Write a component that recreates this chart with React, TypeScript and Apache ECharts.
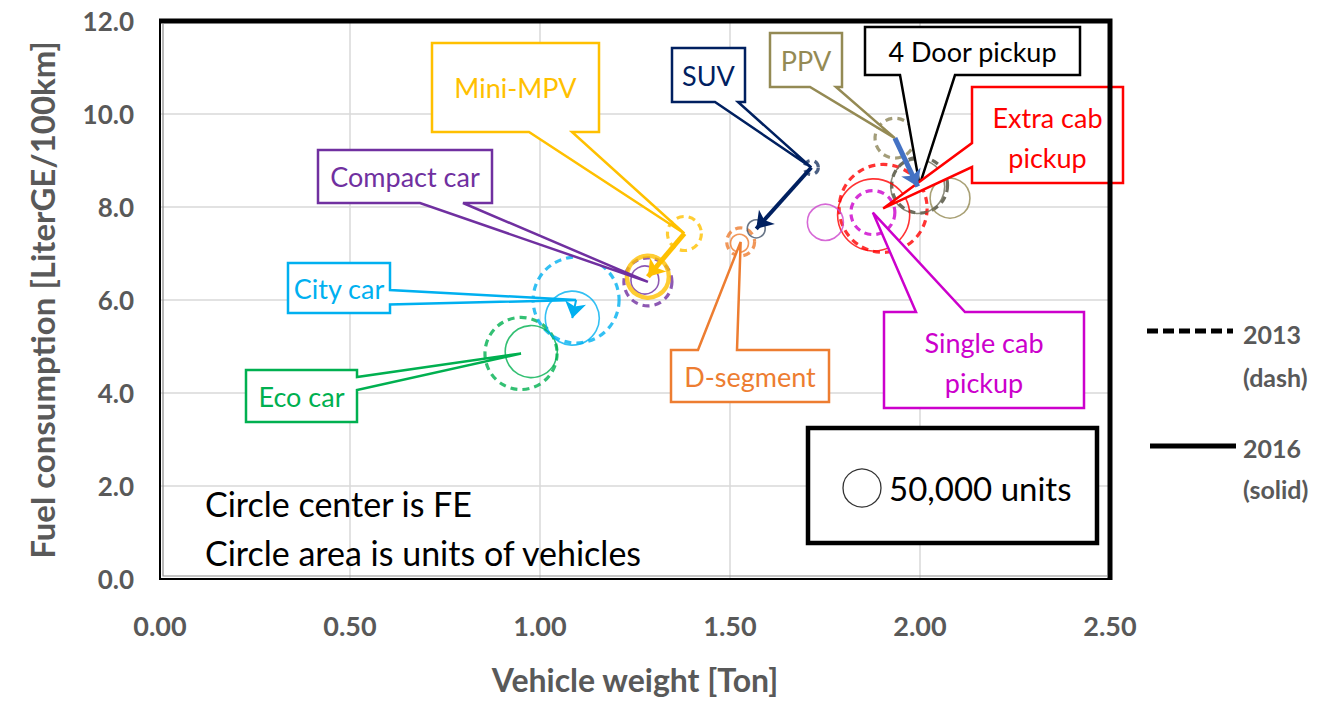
import React, { useEffect, useRef } from 'react';
import * as echarts from 'echarts';

const categories = ['Eco car', 'City car', 'Compact car', 'Mini-MPV', 'D-segment', 'SUV', 'PPV', '4 Door pickup', 'Extra cab pickup', 'Single cab pickup'];
const weight2013 = [0.95, 1.095, 1.284, 1.38, 1.528, 1.714, 1.934, 1.999, 1.903, 1.876];
const fe2013 = [4.85, 6.0, 6.39, 7.43, 7.25, 8.85, 9.48, 8.47, 7.97, 7.88];
const units2013 = [180000, 256000, 80000, 40000, 27000, 6800, 55000, 108000, 268000, 67000];
const weight2016 = [0.977, 1.085, 1.276, 1.284, 1.525, 1.569, 2.079, 1.994, 1.878, 1.751];
const fe2016 = [4.89, 5.61, 6.43, 6.5, 7.22, 7.53, 8.19, 8.44, 7.83, 7.67];
const units2016 = [94000, 101000, 27000, 61000, 11200, 11200, 55000, 101000, 180000, 45000];
const colors = ['#00B050', '#00B0F0', '#7030A0', '#FFC000', '#ED7D31', '#002060', '#948A54', '#000000', '#FF0000', '#CC00CC'];
const circle2013Colors = ['#00B050', '#00B0F0', '#7030A0', '#FFC000', '#ED7D31', '#1F3864', '#8C8458', '#4A4A38', '#FF0000', '#CC00CC'];
const circle2016Colors = ['#00B050', '#00B0F0', '#7030A0', '#FFC000', '#ED7D31', '#44546A', '#948A54', '#6E6E5A', '#FF0000', '#CC44CC'];
const xTicks = [0, 0.5, 1, 1.5, 2, 2.5];
const yTicks = [0, 2, 4, 6, 8, 10, 12];
const legendUnits = 50000;
// arrows between bubbles (category index of start / end)
const arrowFrom = [5, 3, 1, 6];
const arrowTo = [5, 3, 1, 7];
const arrowColors = ['#002060', '#FFC000', '#00B0F0', '#4472C4'];
const arrowWidths = [4, 5, 2, 5];

// callout layout (annotation boxes)
const callouts = [
  { cat: 3, lines: ['Mini-MPV'], box: [432, 43, 167, 89], side: 'bottom', base: [529, 572] },
  { cat: 2, lines: ['Compact car'], box: [318, 150, 174, 53], side: 'bottom', base: [420, 463] },
  { cat: 5, lines: ['SUV'], box: [672, 48, 73, 54], side: 'bottom', base: [715, 738] },
  { cat: 6, lines: ['PPV'], box: [770, 33, 72, 54], side: 'bottom', base: [810, 836] },
  { cat: 7, lines: ['4 Door pickup'], box: [865, 27, 215, 48], side: 'bottom', base: [900, 955] },
  { cat: 8, lines: ['Extra cab', 'pickup'], box: [972, 87, 151, 96], side: 'left', base: [143, 167] },
  { cat: 9, lines: ['Single cab', 'pickup'], box: [884, 312, 200, 96], side: 'top', base: [916, 965] },
  { cat: 4, lines: ['D-segment'], box: [671, 350, 158, 52], side: 'top', base: [698, 737] },
  { cat: 1, lines: ['City car'], box: [288, 263, 102, 50], side: 'right', base: [290, 304.5] },
  { cat: 0, lines: ['Eco car'], box: [246, 370, 111, 52], side: 'right', base: [377, 390] },
];

const R50 = 19;
const sizeOf = (u: number) => 2 * R50 * Math.sqrt(u / legendUnits);
const FONT = 'Lato, "Open Sans", sans-serif';

export default function App() {
  const ref = useRef<HTMLDivElement>(null);
  useEffect(() => {
    document.body.style.margin = '0';
    const chart = echarts.init(ref.current!, null, { renderer: 'svg' });
    const point = (i: number, yr: number) => (yr === 2013 ? [weight2013[i], fe2013[i]] : [weight2016[i], fe2016[i]]);

    const mkSeries = (yr: number) => ({
      type: 'scatter',
      name: String(yr),
      z: 3,
      silent: true,
      symbol: 'circle',
      symbolSize: (v: number[]) => sizeOf(v[2]),
      data: categories.map((c, i) => ({
        name: c,
        value: yr === 2013 ? [weight2013[i], fe2013[i], units2013[i]] : [weight2016[i], fe2016[i], units2016[i]],
        itemStyle: {
          color: 'rgba(0,0,0,0)',
          borderColor: yr === 2013 ? circle2013Colors[i] : circle2016Colors[i],
          borderWidth: yr === 2013 ? 3.2 : i === 3 ? 4.5 : 1.6,
          borderType: yr === 2013 ? [7, 5] : 'solid',
        },
      })),
    });

    chart.setOption({
      animation: false,
      grid: { left: 160, right: 214, top: 21, bottom: 123, show: false, outerBoundsMode: 'none' },
      xAxis: {
        type: 'value', min: xTicks[0], max: xTicks[xTicks.length - 1], interval: 0.5,
        name: 'Vehicle weight [Ton]', nameLocation: 'middle', nameGap: 84,
        nameTextStyle: { fontSize: 32, fontWeight: 'bold', color: '#595959', fontFamily: FONT },
        axisLine: { show: false }, axisTick: { show: false },
        axisLabel: { margin: 33, fontSize: 27, fontWeight: 'bold', color: '#595959', fontFamily: FONT, formatter: (v: number) => v.toFixed(2) },
        splitLine: { show: true, lineStyle: { color: '#D9D9D9', width: 1.5 } },
      },
      yAxis: {
        type: 'value', min: yTicks[0], max: yTicks[yTicks.length - 1], interval: 2,
        name: 'Fuel consumption [LiterGE/100km]', nameLocation: 'middle', nameGap: 102, nameRotate: 90,
        nameTextStyle: { fontSize: 33, fontWeight: 'bold', color: '#595959', fontFamily: FONT },
        axisLine: { show: false }, axisTick: { show: false },
        axisLabel: { margin: 26, fontSize: 26, fontWeight: 'bold', color: '#595959', fontFamily: FONT, formatter: (v: number) => v.toFixed(1) },
        splitLine: { show: true, lineStyle: { color: '#D9D9D9', width: 1.5 } },
      },
      series: [
        mkSeries(2013),
        mkSeries(2016),
        {
          type: 'lines',
          coordinateSystem: 'cartesian2d',
          z: 10,
          silent: true,
          symbol: ['none', 'arrow'],
          symbolSize: 16,
          data: arrowFrom.map((f, k) => ({
            coords: [point(f, 2013), point(arrowTo[k], 2016)],
            lineStyle: { color: arrowColors[k], width: arrowWidths[k], opacity: 1 },
          })),
        },
      ],
    });

    const graphics: any[] = [];
    // plot frame
    const tl = chart.convertToPixel({ gridIndex: 0 }, [xTicks[0], yTicks[yTicks.length - 1]]) as number[];
    const br = chart.convertToPixel({ gridIndex: 0 }, [xTicks[xTicks.length - 1], yTicks[0]]) as number[];
    graphics.push({ type: 'rect', z: 20, silent: true, shape: { x: tl[0], y: tl[1], width: br[0] - tl[0], height: br[1] - tl[1] }, style: { fill: 'none', stroke: '#000', lineWidth: 2 } });
    graphics.push({ type: 'polyline', z: 21, silent: true, shape: { points: [[tl[0] - 1, tl[1]], [br[0], tl[1]], [br[0], br[1] + 1]] }, style: { fill: 'none', stroke: '#000', lineWidth: 5 } });
    graphics.push({ type: 'polyline', z: 21, silent: true, shape: { points: [[tl[0] + 3, tl[1] + 3], [tl[0] + 3, br[1] - 3], [br[0] - 3, br[1] - 3]] }, style: { fill: 'none', stroke: '#8C8C8C', lineWidth: 1.2 } });

    callouts.forEach((co) => {
      const [bx, by, bw, bh] = co.box;
      const tip = chart.convertToPixel({ gridIndex: 0 }, point(co.cat, 2013)) as number[];
      const [b1, b2] = co.base;
      let pts: number[][] = [];
      if (co.side === 'bottom') {
        pts = [[bx, by], [bx + bw, by], [bx + bw, by + bh], [b2, by + bh], tip, [b1, by + bh], [bx, by + bh]];
      } else if (co.side === 'top') {
        pts = [[bx, by], [b1, by], tip, [b2, by], [bx + bw, by], [bx + bw, by + bh], [bx, by + bh]];
      } else if (co.side === 'left') {
        pts = [[bx, by], [bx + bw, by], [bx + bw, by + bh], [bx, by + bh], [bx, b2], tip, [bx, b1]];
      } else {
        pts = [[bx, by], [bx + bw, by], [bx + bw, b1], tip, [bx + bw, b2], [bx + bw, by + bh], [bx, by + bh]];
      }
      const col = colors[co.cat];
      graphics.push({
        type: 'polygon', z: 5, silent: true,
        shape: { points: pts },
        style: { fill: '#fff', stroke: col, lineWidth: 2.5, lineJoin: 'miter' },
      });
      const n = co.lines.length;
      co.lines.forEach((t, j) => {
        graphics.push({
          type: 'text', z: 6, silent: true,
          x: bx + bw / 2,
          y: n === 1 ? by + bh / 2 : by + 30 + j * 40,
          style: { text: t, fill: col, fontSize: 27, fontFamily: FONT, align: 'center', verticalAlign: 'middle', textAlign: 'center', textVerticalAlign: 'middle' },
        });
      });
    });

    // notes
    graphics.push({ type: 'text', z: 6, x: 205, y: 503, style: { text: 'Circle center is FE', fill: '#000', fontSize: 34, fontFamily: FONT, verticalAlign: 'middle', textVerticalAlign: 'middle' } });
    graphics.push({ type: 'text', z: 6, x: 205, y: 552, style: { text: 'Circle area is units of vehicles', fill: '#000', fontSize: 34, fontFamily: FONT, verticalAlign: 'middle', textVerticalAlign: 'middle' } });

    // size legend box
    graphics.push({ type: 'rect', z: 6, shape: { x: 808, y: 428, width: 289, height: 115 }, style: { fill: '#fff', stroke: '#000', lineWidth: 4.5 } });
    graphics.push({ type: 'circle', z: 7, shape: { cx: 862, cy: 488, r: sizeOf(legendUnits) / 2 }, style: { fill: 'none', stroke: '#333', lineWidth: 1.3 } });
    graphics.push({ type: 'text', z: 7, x: 889, y: 488, style: { text: '50,000 units', fill: '#000', fontSize: 33, fontFamily: FONT, verticalAlign: 'middle', textVerticalAlign: 'middle' } });

    // year legend
    graphics.push({ type: 'line', z: 6, shape: { x1: 1147, y1: 331, x2: 1233, y2: 331 }, style: { stroke: '#000', lineWidth: 5, lineDash: [11, 5] } });
    graphics.push({ type: 'line', z: 6, shape: { x1: 1150, y1: 446, x2: 1236, y2: 446 }, style: { stroke: '#000', lineWidth: 5 } });
    const legTexts = [['2013', 334], ['(dash)', 377], ['2016', 448], ['(solid)', 489]];
    legTexts.forEach(([t, y]) => {
      graphics.push({ type: 'text', z: 6, x: 1243, y: y as number, style: { text: t, fill: '#595959', fontSize: 25, fontWeight: 'bold', fontFamily: FONT, verticalAlign: 'middle', textVerticalAlign: 'middle' } });
    });

    chart.setOption({ graphic: graphics });
    return () => chart.dispose();
  }, []);
  return <div ref={ref} style={{ width: 1324, height: 702 }} />;
}
